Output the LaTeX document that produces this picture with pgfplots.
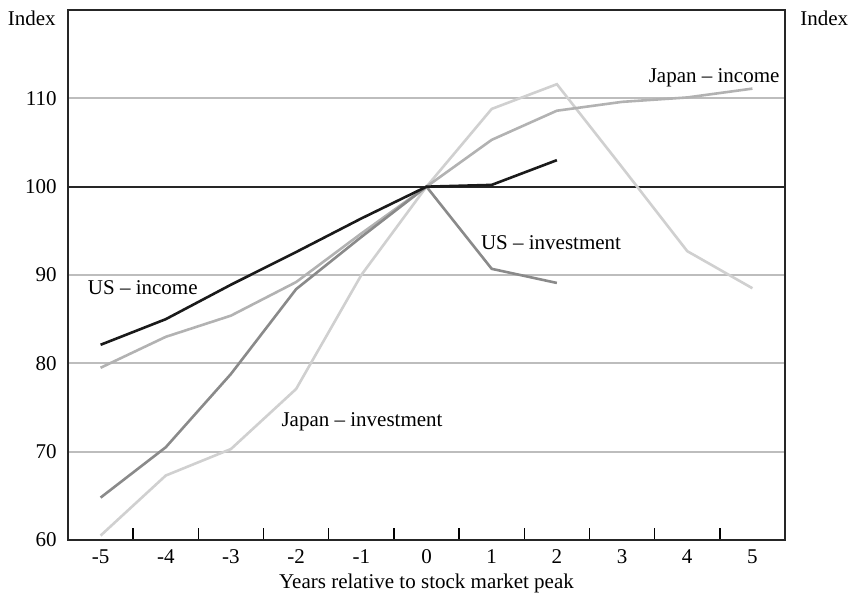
\documentclass[border=0pt]{standalone}
\usepackage{pgfplots}
\pgfplotsset{compat=1.18}
\usepackage{fontspec}
\setmainfont{Liberation Serif}
\definecolor{usinc}{HTML}{1A1A1A}
\definecolor{usinv}{HTML}{8A8A8A}
\definecolor{jpinc}{HTML}{B2B2B2}
\definecolor{jpinv}{HTML}{D0D0D0}
\definecolor{gridc}{HTML}{BDBDBD}
\begin{document}
\fontsize{10.5}{12}\selectfont
\begin{tikzpicture}
\begin{axis}[
  at={(0,0)}, anchor=south west,
  scale only axis, width=358.5pt, height=265pt,
  xmin=-5.5, xmax=5.5, ymin=60, ymax=120,
  axis line style={line width=0.9pt, black!85},
  xtick={-5,...,5},
  xticklabels={-5,-4,-3,-2,-1,0,1,2,3,4,5},
  minor xtick={-4.5,-3.5,...,4.5},
  major tick length=0pt,
  minor tick length=6pt,
  tick align=inside,
  xtick pos=lower,
  ytick pos=left,
  x tick style={line width=0.7pt, black},
  xticklabel style={yshift=-1pt},
  ytick={60,70,80,90,100,110},
  y tick style={draw=none},
  ymajorgrids,
  major grid style={line width=0.9pt, gridc},
  yticklabel style={xshift=-2pt},
  xlabel={Years relative to stock market peak},
  xlabel style={yshift=2pt},
  tick label style={font=\fontsize{10.5}{12}\selectfont},
  /pgf/number format/assume math mode=true,
  clip=false,
]
\draw[line width=0.9pt, black!85] (axis cs:-5.5,100) -- (axis cs:5.5,100);
\addplot[jpinv, line width=1.3pt] coordinates {(-5,60.5) (-4,67.3) (-3,70.3) (-2,77.1) (-1,90.0) (0,100) (1,108.8) (2,111.6) (3,102.2) (4,92.7) (5,88.5)};
\addplot[jpinc, line width=1.3pt] coordinates {(-5,79.5) (-4,83.0) (-3,85.4) (-2,89.2) (-1,94.7) (0,100) (1,105.3) (2,108.6) (3,109.6) (4,110.1) (5,111.1)};
\addplot[usinv, line width=1.3pt] coordinates {(-5,64.8) (-4,70.5) (-3,78.8) (-2,88.4) (-1,94.3) (0,100) (1,90.7) (2,89.1)};
\addplot[usinc, line width=1.3pt] coordinates {(-5,82.1) (-4,85.0) (-3,88.9) (-2,92.6) (-1,96.4) (0,100) (1,100.2) (2,103.0)};
\node[anchor=base west, inner sep=0pt] at (axis cs:-5.2,87.8) {US -- income};
\node[anchor=base west, inner sep=0pt] at (axis cs:0.83,92.9) {US -- investment};
\node[anchor=base west, inner sep=0pt] at (axis cs:-2.23,72.8) {Japan -- investment};
\node[anchor=base east, inner sep=0pt] at (axis cs:5.42,111.8) {Japan -- income};
\node[anchor=base east, inner sep=0pt] at (axis cs:-5.5,118.3) [xshift=-6pt] {Index};
\node[anchor=base west, inner sep=0pt] at (axis cs:5.5,118.3) [xshift=7.5pt] {Index};
\end{axis}
\begin{axis}[
  at={(0,0)}, anchor=south west,
  scale only axis, width=358.5pt, height=265pt,
  xmin=-5.5, xmax=5.5, ymin=60, ymax=120,
  axis lines=none, hide x axis,
  axis y line*=right, y axis line style={draw=none},
  ytick={60,70,80,90,100,110},
  y tick style={draw=none},
  yticklabel style={xshift=2.5pt},
  tick label style={font=\fontsize{10.5}{12}\selectfont},
  /pgf/number format/assume math mode=true,
]
\addplot[draw=none] coordinates {(0,100)};
\end{axis}
\pgfresetboundingbox
\path[use as bounding box] (-34pt,-27.5pt) rectangle (390.5pt,270pt);
\end{tikzpicture}
\end{document}
